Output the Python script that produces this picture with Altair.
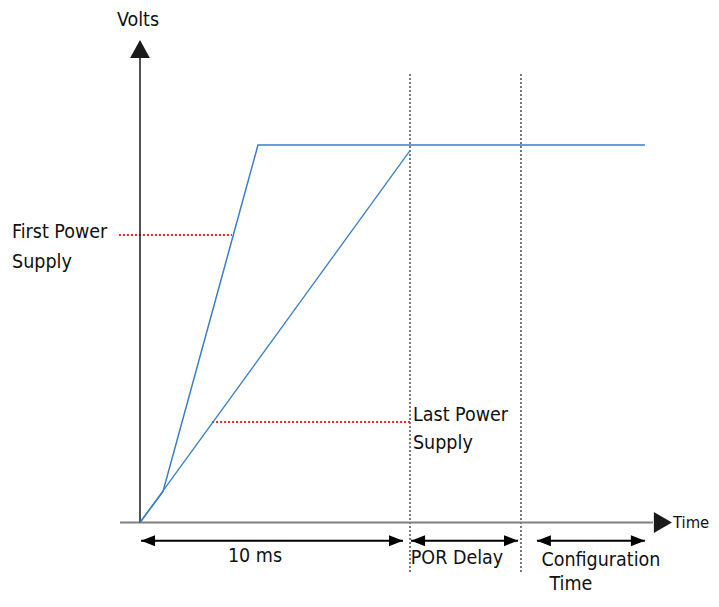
import altair as alt
import pandas as pd

# ---- data (time in ms, volts in V) ----
fast_t = [0.0, 0.85, 4.37, 18.7]
fast_v = [0.0, 0.27, 3.30, 3.30]
slow_t = [0.0, 10.0]
slow_v = [0.0, 3.25]

supply_v = [2.513, 0.879]
supply_t0 = [-0.78, 2.67]
supply_t1 = [3.41, 10.0]

marker_t = [10.0, 14.11]
marker_v0 = [-0.433, -0.433]
marker_v1 = [3.921, 3.921]

span_start = [0.04, 10.04, 14.7]
span_end = [9.74, 14.0, 18.7]
span_v = [-0.159, -0.159, -0.159]

axis_x_t = [-0.74, 19.0]
axis_y_v = [0.0, 4.06]
x_tip = [19.70]
y_tip = [4.218]

left_labels = ["First Power", "Supply", "Last Power", "Supply"]
left_t = [-4.74, -4.74, 10.11, 10.11]
left_v = [2.54, 2.277, 0.94, 0.695]

axis_label = ["Time"]
axis_label_t = [19.74]
axis_label_v = [0.0]

center_labels = ["Volts", "10 ms", "POR Delay", "Configuration", "Time"]
center_t = [-0.074, 4.26, 11.74, 17.07, 15.96]
center_v = [4.393, -0.293, -0.31, -0.33, -0.54]

# ---- scales: 27 px per ms, origin at x=140; 114.39 px per V, origin at y=522.5 ----
W, H = 703, 587
x0 = (8 - 140) / 27.0
x1 = (8 + W - 140) / 27.0
y1 = (522.5 - 8) / 114.39
y0 = (522.5 - 8 - H) / 114.39
xs = alt.Scale(domain=[x0, x1], nice=False, zero=False)
ys = alt.Scale(domain=[y0, y1], nice=False, zero=False)
FONT = "DejaVu Sans Condensed"
FS = 19.5

def X(f="t"):
    return alt.X(f"{f}:Q", scale=xs, axis=None)

def Y(f="v"):
    return alt.Y(f"{f}:Q", scale=ys, axis=None)

fast_df = pd.DataFrame({"t": fast_t, "v": fast_v, "o": range(len(fast_t))})
slow_df = pd.DataFrame({"t": slow_t, "v": slow_v, "o": range(len(slow_t))})

fast = alt.Chart(fast_df).mark_line(color="#3a7ec8", strokeWidth=1.5).encode(
    x=X(), y=Y(), order="o:O")
slow = alt.Chart(slow_df).mark_line(color="#3a7ec8", strokeWidth=1.3).encode(
    x=X(), y=Y(), order="o:O")

supply_df = pd.DataFrame({"t": supply_t0, "t2": supply_t1, "v": supply_v})
supply = alt.Chart(supply_df).mark_rule(
    color="#e8282c", strokeWidth=2, strokeDash=[2, 2]).encode(
    x=X(), x2="t2:Q", y=Y())

marker_df = pd.DataFrame({"t": marker_t, "v": marker_v0, "v2": marker_v1})
markers = alt.Chart(marker_df).mark_rule(
    color="#222222", strokeWidth=1.2, strokeDash=[2, 2]).encode(
    x=X(), y=Y(), y2="v2:Q")

xaxis_df = pd.DataFrame({"t": [axis_x_t[0]], "t2": [axis_x_t[1]], "v": [0.0]})
xaxis = alt.Chart(xaxis_df).mark_rule(color="#808080", strokeWidth=2).encode(
    x=X(), x2="t2:Q", y=Y())
yaxis_df = pd.DataFrame({"t": [0.0], "v": [axis_y_v[0]], "v2": [axis_y_v[1]]})
yaxis = alt.Chart(yaxis_df).mark_rule(color="#1a1a1a", strokeWidth=1.5).encode(
    x=X(), y=Y(), y2="v2:Q")

xtip_df = pd.DataFrame({"t": x_tip, "v": [0.0]})
xtip = alt.Chart(xtip_df).mark_point(
    shape="M0,0L-0.95,-0.55L-0.95,0.55Z", filled=True, opacity=1,
    color="#1a1a1a", size=1444, strokeWidth=0).encode(x=X(), y=Y())
ytip_df = pd.DataFrame({"t": [0.0], "v": y_tip})
ytip = alt.Chart(ytip_df).mark_point(
    shape="M0,0L0.52,0.95L-0.52,0.95Z", filled=True, opacity=1,
    color="#1a1a1a", size=1444, strokeWidth=0).encode(x=X(), y=Y())

span_df = pd.DataFrame({"t": span_start, "t2": span_end, "v": span_v})
spans = alt.Chart(span_df).mark_rule(color="#000000", strokeWidth=2).encode(
    x=X(), x2="t2:Q", y=Y())
lhead = alt.Chart(span_df).mark_point(
    shape="M0,0L1,-0.39L1,0.39Z", filled=True, opacity=1,
    color="#000000", size=784, strokeWidth=0).encode(x=X(), y=Y())
rhead = alt.Chart(span_df).mark_point(
    shape="M0,0L-1,-0.39L-1,0.39Z", filled=True, opacity=1,
    color="#000000", size=784, strokeWidth=0).encode(x=X("t2"), y=Y())

left_df = pd.DataFrame({"label": left_labels, "t": left_t, "v": left_v})
left_text = alt.Chart(left_df).mark_text(
    align="left", baseline="middle", font=FONT, fontSize=FS, color="#111111").encode(
    x=X(), y=Y(), text="label:N")
axis_df = pd.DataFrame({"label": axis_label, "t": axis_label_t, "v": axis_label_v})
axis_text = alt.Chart(axis_df).mark_text(
    align="left", baseline="middle", font=FONT, fontSize=16.5, color="#111111").encode(
    x=X(), y=Y(), text="label:N")
center_df = pd.DataFrame({"label": center_labels, "t": center_t, "v": center_v})
center_text = alt.Chart(center_df).mark_text(
    align="center", baseline="middle", font=FONT, fontSize=FS, color="#111111").encode(
    x=X(), y=Y(), text="label:N")

chart = alt.layer(
    markers, supply, xaxis, yaxis, slow, fast, spans, lhead, rhead,
    xtip, ytip, left_text, axis_text, center_text
).properties(
    width=W, height=H, padding=0,
    autosize=alt.AutoSizeParams(type="none")
).configure_view(stroke=None)

chart.save("out.html", embed_options={"renderer": "svg", "actions": False})
